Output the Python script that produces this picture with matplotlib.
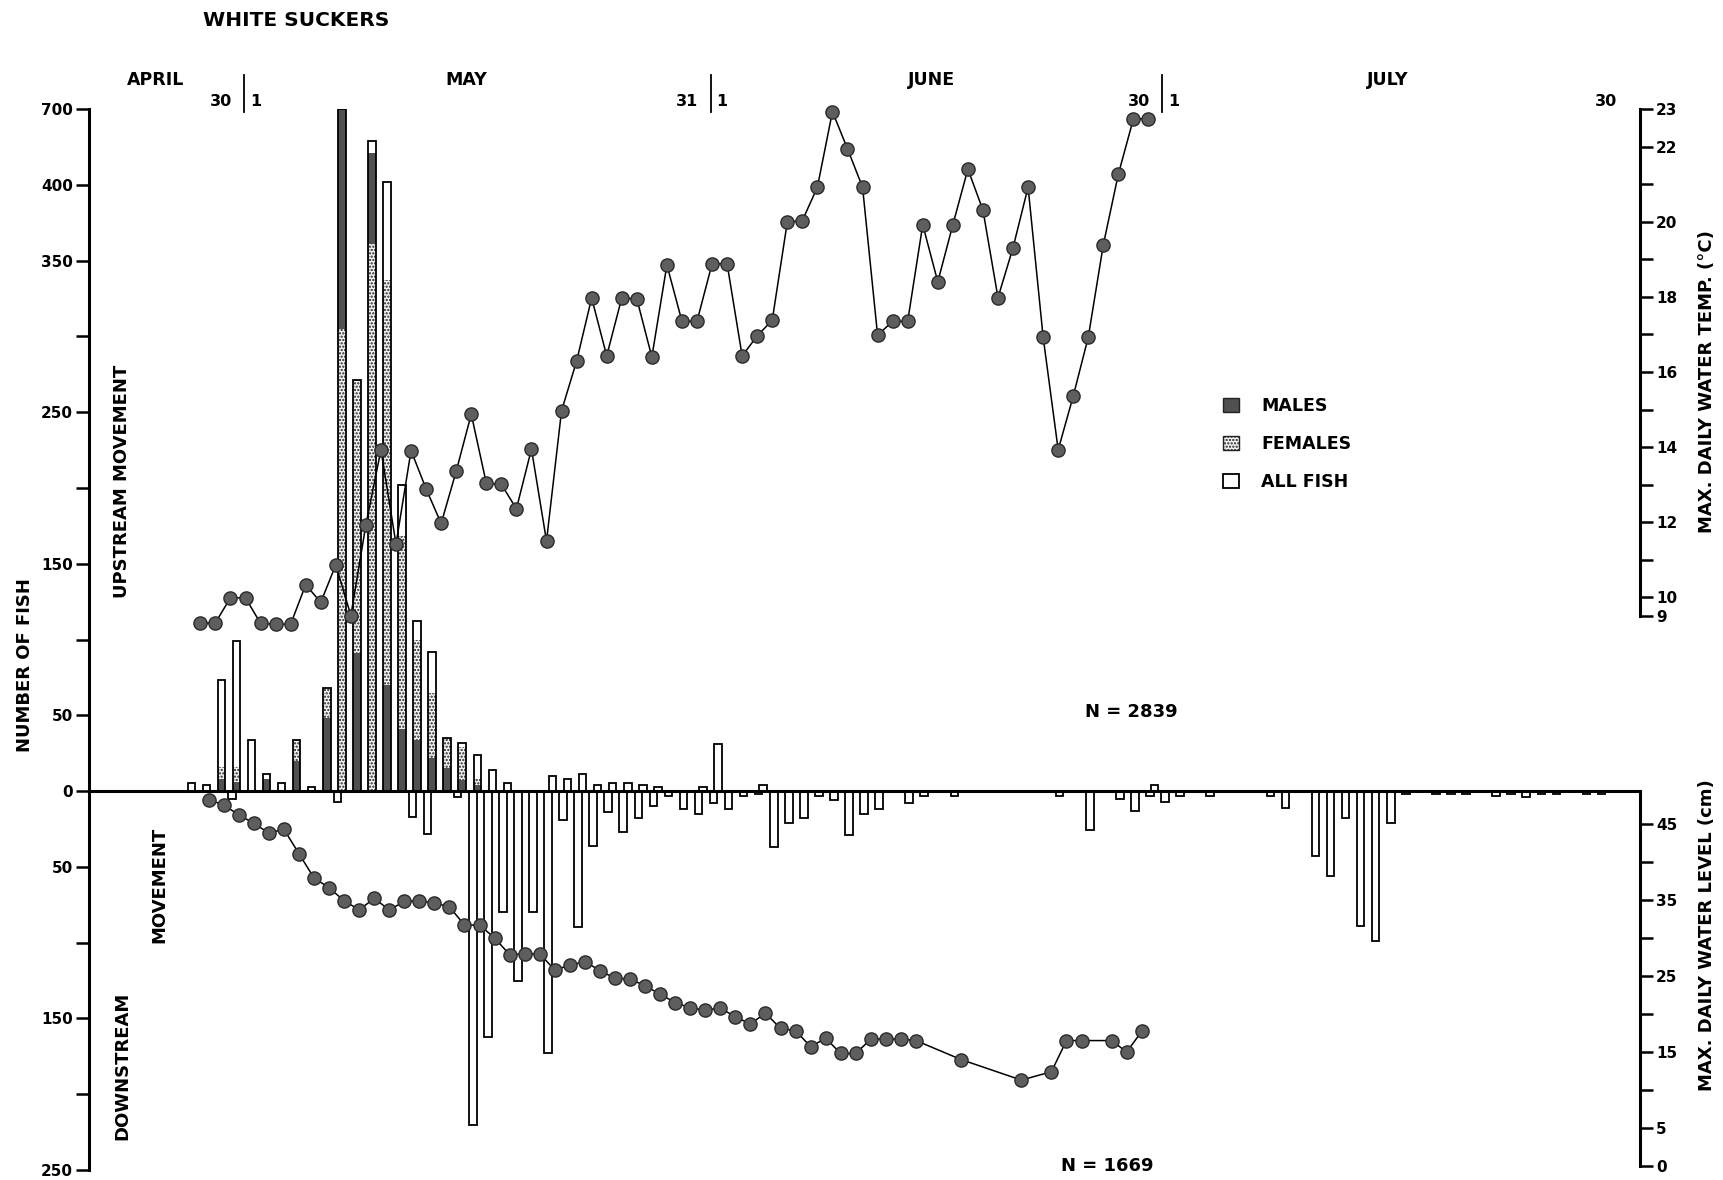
import numpy as np
import matplotlib
matplotlib.use("Agg")
import matplotlib.pyplot as plt
from matplotlib.patches import Patch
from matplotlib import transforms

plt.rcParams['font.family'] = ['DejaVu Sans']
plt.rcParams['hatch.linewidth'] = 1.1
plt.rcParams['hatch.color'] = '#222222'

# ---------------- data ----------------
# day index: 0 = April 30, 1 = May 1, 32 = June 1, 62 = July 1
up_days = [-3, -2, -1, 0, 1, 2, 3, 4, 5, 6, 7, 8, 9, 10, 11, 12, 13, 14, 15, 16, 17, 18,
           21, 22, 23, 24, 25, 26, 27, 28, 31, 32, 35, 61]
up_all = [5, 4, 73, 99, 34, 11, 5, 34, 3, 68, 700, 271, 574, 412, 202, 112, 92, 35, 32, 24, 14, 5,
          10, 8, 11, 4, 5, 5, 4, 3, 3, 31, 4, 4]
up_males = [0, 0, 8, 6, 0, 8, 0, 20, 0, 48, 395, 91, 165, 70, 41, 34, 22, 15, 7, 4, 0, 0,
            0, 0, 0, 0, 0, 0, 0, 0, 0, 0, 0, 0]
up_females = [0, 0, 8, 10, 0, 0, 0, 14, 0, 20, 305, 180, 361, 267, 127, 66, 43, 20, 22, 4, 0, 0,
              0, 0, 0, 0, 0, 0, 0, 0, 0, 0, 0, 0]
males_on_top_days = [7, 9]

down_days = [-1, 6, 11, 12, 14, 15, 16, 17, 18, 19, 20, 21, 22, 23, 24, 25, 26, 27, 28, 29,
             30, 31, 32, 33, 34, 35, 36, 37, 38, 39, 40, 41, 42, 44, 45, 47, 54, 56, 58, 59,
             60, 61, 62, 64, 68, 69, 71, 72, 73, 74, 75, 76, 77, 79, 80, 81, 83, 84, 85, 86,
             87, 89, 90]
down_vals = [5, 7, 17, 28, 4, 220, 162, 80, 125, 80, 173, 19, 90, 36, 14, 27, 18, 10, 3, 12,
             15, 8, 12, 3, 2, 37, 21, 18, 3, 6, 29, 15, 12, 8, 3, 3, 3, 26, 5, 13,
             3, 7, 3, 3, 3, 11, 43, 56, 18, 89, 99, 21, 2, 2, 2, 2, 3, 2, 4, 2,
             2, 2, 2]

temp_first_day = -3
temp = [9.31, 9.33, 9.99, 9.99, 9.31, 9.29, 9.29, 10.34, 9.87, 10.87, 9.52, 11.94, 13.93, 11.42,
        13.91, 12.89, 11.97, 13.36, 14.88, 13.04, 13.01, 12.36, 13.95, 11.5, 14.97, 16.29, 17.97,
        16.43, 17.97, 17.95, 16.40, 18.85, 17.35, 17.35, 18.88, 18.88, 16.43, 16.96, 17.38, 19.99,
        20.03, 20.92, 22.93, 21.94, 20.92, 16.98, 17.35, 17.35, 19.92, 18.40, 19.92, 21.40, 20.31,
        17.98, 19.31, 20.92, 16.93, 13.93, 15.36, 16.93, 19.39, 21.27, 22.74, 22.74]

water_days = list(range(-2, 46)) + [48, 52, 54, 55, 56, 58, 59, 60]
water = [48.2, 47.5, 46.2, 45.1, 43.8, 44.3, 41.1, 37.9, 36.6, 34.9, 33.7, 35.2, 33.7, 34.8,
         34.9, 34.6, 34.1, 31.7, 31.7, 30.0, 27.8, 27.9, 27.9, 25.8, 26.4, 26.9, 25.7, 24.7,
         24.6, 23.7, 22.6, 21.5, 20.8, 20.5, 20.8, 19.6, 18.7, 20.1, 18.1, 17.8, 15.7, 16.8,
         14.8, 14.8, 16.7, 16.7, 16.7, 16.5,
         14.0, 11.3, 12.4, 16.5, 16.5, 16.5, 15.0, 17.7]

month_names = ['APRIL', 'MAY', 'JUNE', 'JULY']
month_pos = [-5.4, 15.3, 46.2, 76.5]
left_tick_labels = ['700', '400', '350', '250', '150', '50', '0', '50', '150', '250']
temp_tick_labels = ['23', '22', '20', '18', '16', '14', '12', '10', '9']
water_tick_labels = ['45', '35', '25', '15', '5', '0']

# ---------------- layout ----------------
W, H = 1724, 1180
fig = plt.figure(figsize=(W / 100, H / 100), dpi=100)
ax_l, ax_r, ax_t, ax_b = 89, 1640, 109, 1170
ax = fig.add_axes([ax_l / W, 1 - ax_b / H, (ax_r - ax_l) / W, (ax_b - ax_t) / H])
ax.patch.set_alpha(0)
ax.set_xlim(-9.80, 93.26)
ax.set_ylim(-250, 450)


def disp(v):
    """broken fish scale: linear to 400, 400-700 compressed into 400-450"""
    v = np.asarray(v, float)
    return np.where(v <= 400, v, 400 + (v - 400) / 6.0)


BW = 0.5
MALE_C = '#505050'
for d, tot, m, f in zip(up_days, up_all, up_males, up_females):
    ax.bar(d, disp(tot), width=BW, color='white', edgecolor='none', zorder=2)
    segs = [(f, 'f'), (m, 'm')] if d in males_on_top_days else [(m, 'm'), (f, 'f')]
    cum = 0.0
    for val, kind in segs:
        if val <= 0:
            continue
        b = float(disp(cum))
        h = float(disp(cum + val)) - b
        if kind == 'm':
            ax.bar(d, h, bottom=b, width=BW, color=MALE_C, edgecolor='#333333',
                   linewidth=0, zorder=3)
        else:
            ax.bar(d, h, bottom=b, width=BW, color='#f4f4f4', edgecolor='#222222',
                   linewidth=0, hatch='.....', zorder=3)
        cum += val
    ax.bar(d, disp(tot), width=BW, fill=False, edgecolor='black', linewidth=1.3, zorder=4)

ax.bar(np.array(down_days) + 0.7, -np.array(down_vals, float), width=BW, color='white',
       edgecolor='black', linewidth=1.3, zorder=2)

ax.axhline(0, color='black', lw=2.2, zorder=6)

for s in ['top', 'right', 'bottom']:
    ax.spines[s].set_visible(False)
ax.spines['left'].set_linewidth(2.2)
ax.spines['left'].set_bounds(-250, 450)
ax.set_xticks([])
ax.set_yticks([450, 400, 350, 250, 150, 50, 0, -50, -150, -250])
ax.set_yticklabels(left_tick_labels)
ax.set_yticks([300, 200, 100, -100, -200], minor=True)
ax.tick_params(axis='y', which='both', direction='out', length=9.5, width=1.8,
               labelsize=11, pad=2)
for t in ax.get_yticklabels():
    t.set_fontweight('bold')

# temperature axis: 23 degC at y=106.6 px, 37.66 px per degree
tax = ax.twinx()
t_top = 23 - (ax_t - 106.6) / 37.66
tax.set_ylim(t_top - (ax_b - ax_t) / 37.66, t_top)
for s in ['top', 'left', 'bottom']:
    tax.spines[s].set_visible(False)
tax.spines['right'].set_bounds(9.5, 23)
tax.spines['right'].set_linewidth(2.2)
tax.set_yticks([23, 22, 20, 18, 16, 14, 12, 10, 9.5])
tax.set_yticklabels(temp_tick_labels)
tax.set_yticks([21, 19, 17, 15, 13, 11], minor=True)
tax.tick_params(axis='y', which='both', direction='out', length=9.5, width=1.8,
                labelsize=11, pad=2)
for t in tax.get_yticklabels():
    t.set_fontweight('bold')
tdays = np.arange(temp_first_day, temp_first_day + len(temp)) + 0.6
tax.plot(tdays, temp, '-o', color='black', lw=1.1, ms=9.5, mfc='#5e5e5e',
         mec='#2a2a2a', mew=1.0, zorder=5, clip_on=False)

# water level axis
wax = ax.twinx()
wax.set_ylim(-0.53, -0.53 + (ax_b - ax_t) / 7.6)
for s in ['top', 'left', 'bottom']:
    wax.spines[s].set_visible(False)
wax.spines['right'].set_bounds(0, 49.3)
wax.spines['right'].set_linewidth(2.2)
wax.set_yticks([45, 35, 25, 15, 5, 0])
wax.set_yticklabels(water_tick_labels)
wax.set_yticks([40, 30, 20, 10], minor=True)
wax.tick_params(axis='y', which='both', direction='out', length=9.5, width=1.8,
                labelsize=11, pad=2)
for t in wax.get_yticklabels():
    t.set_fontweight('bold')
wax.plot(np.array(water_days) + 0.15, water, '-o', color='black', lw=1.1, ms=9.5,
         mfc='#5e5e5e', mec='#2a2a2a', mew=1.0, zorder=5)

# ---------------- texts ----------------
bt = transforms.blended_transform_factory(ax.transData, fig.transFigure)


def fy(y):
    return 1 - y / H


fig.text(296 / W, fy(20), 'WHITE SUCKERS', ha='center', va='center', fontsize=14.5,
         fontweight='bold')
for name, p in zip(month_names, month_pos):
    ax.text(p, fy(80), name, transform=bt, ha='center', va='center', fontsize=12.5,
            fontweight='bold')
for sep, left_lab in zip([0.5, 31.5, 61.5], ['30', '31', '30']):
    ax.plot([sep, sep], [fy(75), fy(112)], transform=bt, color='black', lw=1.3,
            clip_on=False)
    ax.text(sep - 0.8, fy(102), left_lab, transform=bt, ha='right', va='center',
            fontsize=11.5, fontweight='bold')
    ax.text(sep + 0.4, fy(102), '1', transform=bt, ha='left', va='center',
            fontsize=11.5, fontweight='bold')
ax.text(91.0, fy(102), '30', transform=bt, ha='center', va='center', fontsize=11.5,
        fontweight='bold')

fig.text(25 / W, fy(665), 'NUMBER OF FISH', rotation=90, ha='center', va='center',
         fontsize=13, fontweight='bold')
fig.text(122 / W, fy(481), 'UPSTREAM MOVEMENT', rotation=90, ha='center', va='center',
         fontsize=13, fontweight='bold')
fig.text(122 / W, fy(1066), 'DOWNSTREAM', rotation=90, ha='center', va='center',
         fontsize=13, fontweight='bold')
fig.text(159 / W, fy(885), 'MOVEMENT', rotation=90, ha='center', va='center',
         fontsize=13, fontweight='bold')
fig.text(1707 / W, fy(382), 'MAX. DAILY WATER TEMP. (°C)', rotation=90, ha='center',
         va='center', fontsize=13, fontweight='bold')
fig.text(1707 / W, fy(935), 'MAX. DAILY WATER LEVEL (cm)', rotation=90, ha='center',
         va='center', fontsize=13, fontweight='bold')
fig.text(1131 / W, fy(712), 'N = 2839', ha='center', va='center', fontsize=13,
         fontweight='bold')
fig.text(1107 / W, fy(1166), 'N = 1669', ha='center', va='center', fontsize=13,
         fontweight='bold')

handles = [Patch(facecolor=MALE_C, edgecolor='#222222', linewidth=1.0),
           Patch(facecolor='#f4f4f4', edgecolor='#222222', hatch='.....', linewidth=1.0),
           Patch(facecolor='white', edgecolor='black', linewidth=1.3)]
leg = fig.legend(handles, ['MALES', 'FEMALES', 'ALL FISH'], loc='upper left',
                 bbox_to_anchor=(1223 / W, fy(397)), frameon=False, fontsize=12.5,
                 handlelength=0.9, handleheight=0.9, handletextpad=1.3,
                 labelspacing=1.15, borderaxespad=0, borderpad=0)
for t in leg.get_texts():
    t.set_fontweight('bold')

fig.savefig('out.png', dpi=100)
